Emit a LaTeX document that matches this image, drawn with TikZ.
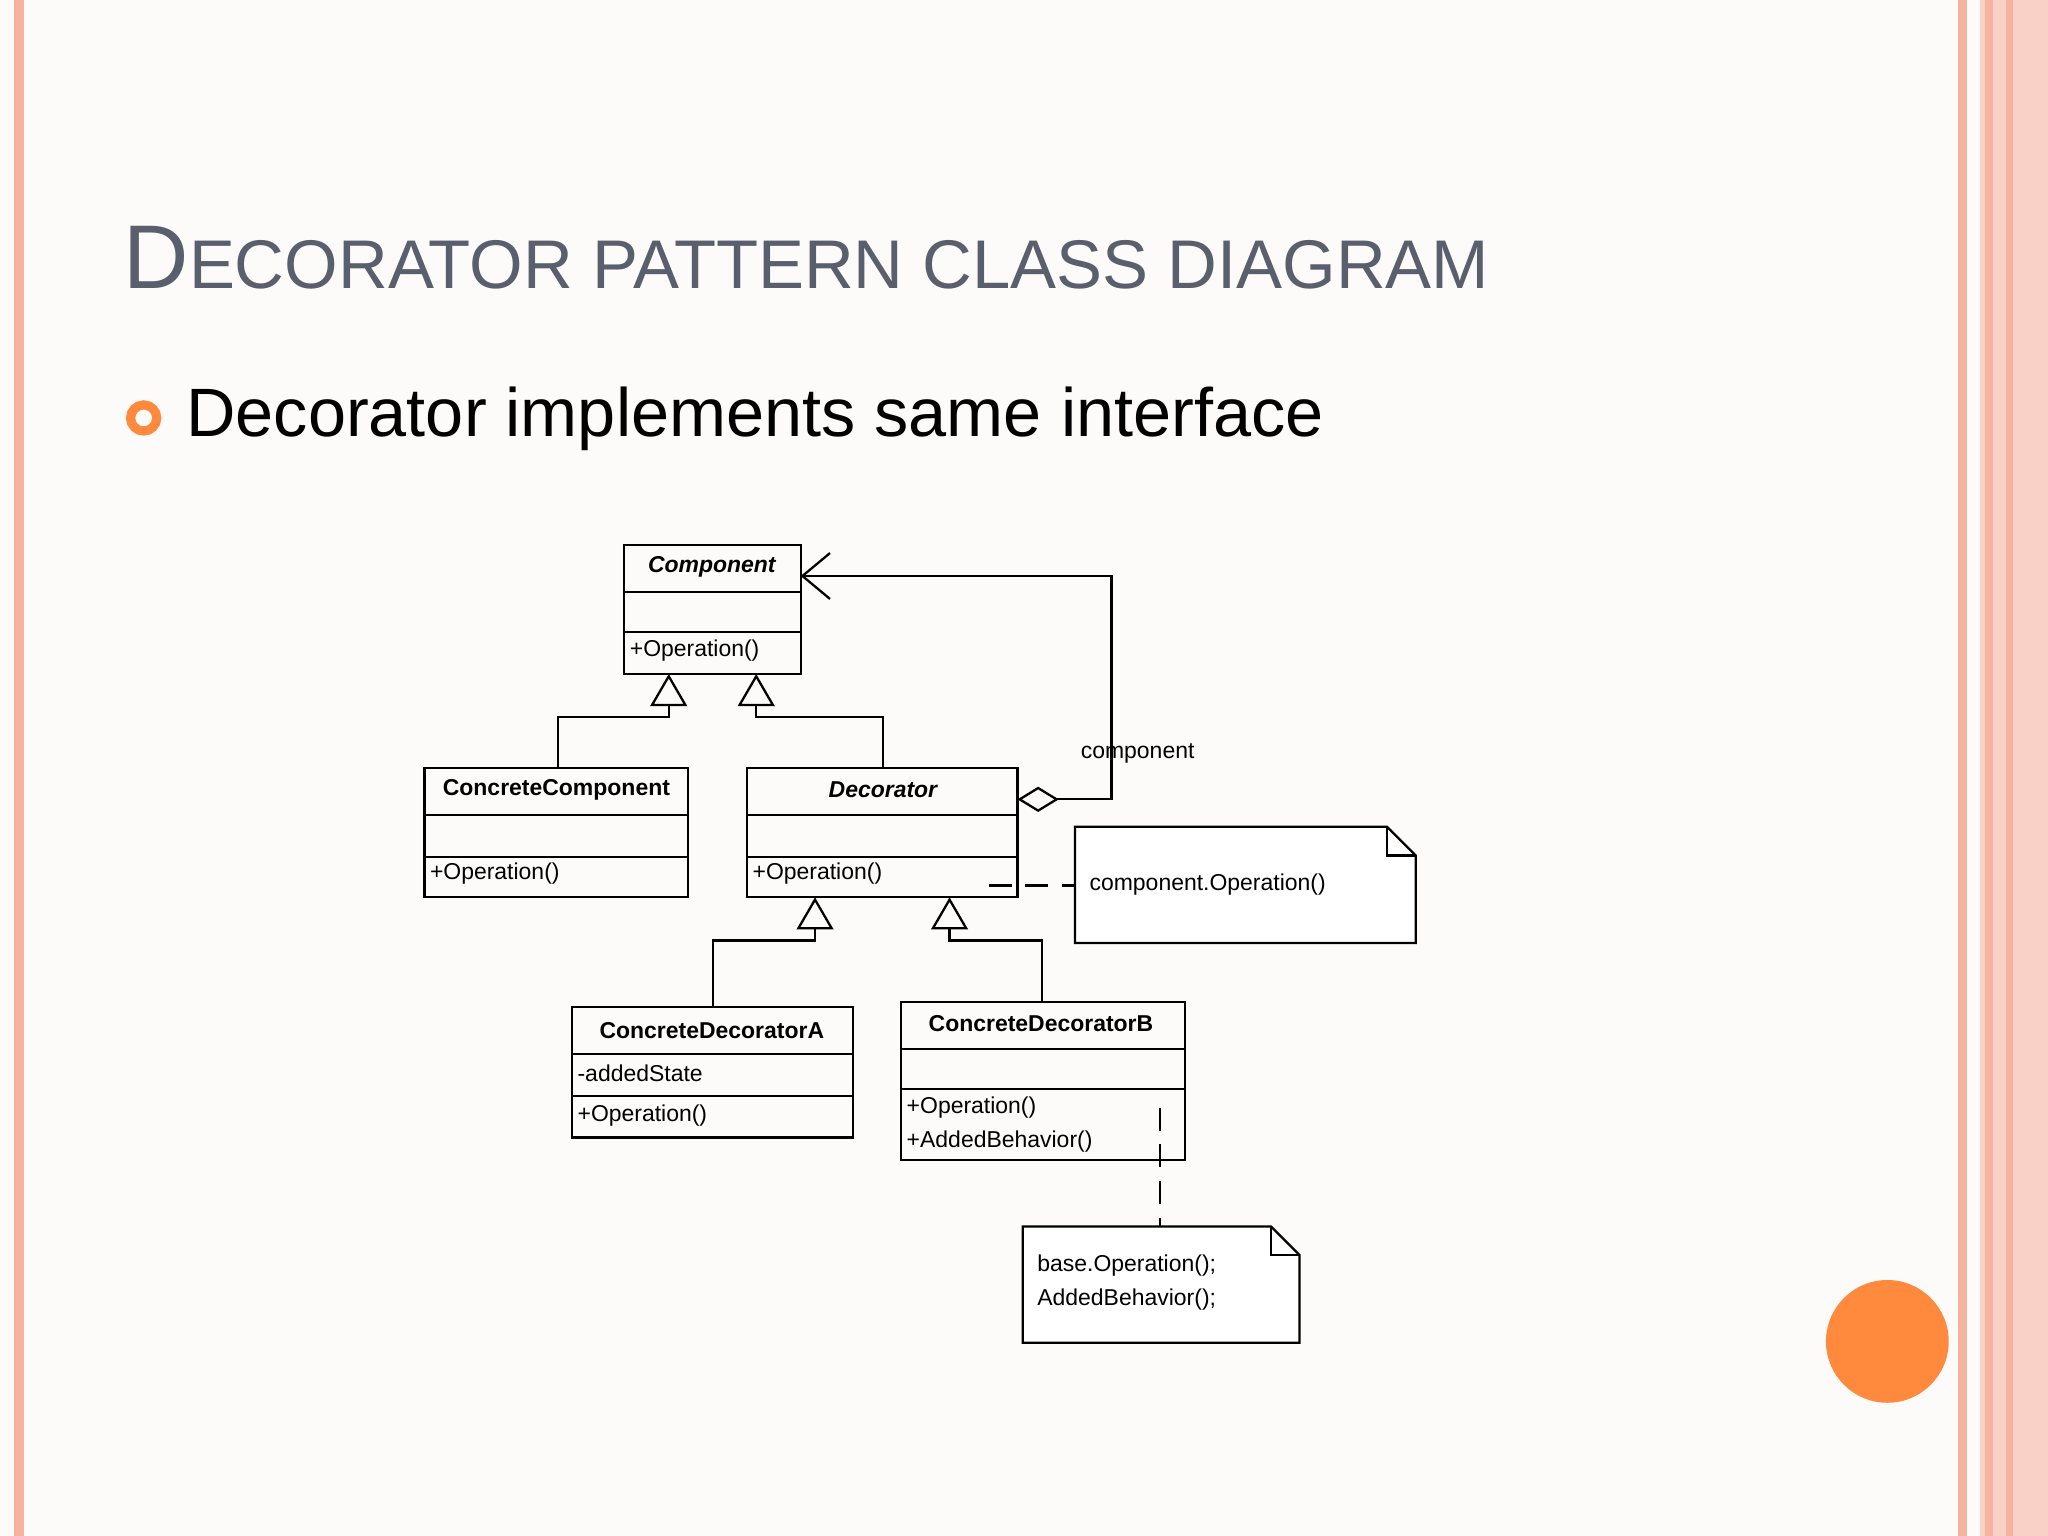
\documentclass[tikz,border=0pt]{standalone}
\usepackage{fontspec}
\setmainfont{Liberation Sans}
\usetikzlibrary{arrows.meta,shapes.geometric}
\definecolor{bg}{HTML}{FDFBF9}
\definecolor{pinkline}{HTML}{F6B3A0}
\definecolor{orng}{HTML}{FF8A3D}
\definecolor{ttl}{HTML}{5A5F6E}
\begin{document}
\begin{tikzpicture}[x=0.01cm,y=-0.01cm,
  box/.style={draw,line width=0.5pt,anchor=north west,inner sep=0pt},
  ln/.style={line width=0.5pt},
  txt/.style={font=\fontsize{5.0}{6.3}\selectfont,inner sep=1pt},
  cls/.style={font=\bfseries\fontsize{5.0}{6.3}\selectfont,inner sep=1pt},
  gen/.style={ln,-{Triangle[open,length=7pt,width=8pt]}},
  note/.style={draw,ln,fill=white}]
\fill[bg] (0,0) rectangle (1568,1176);
\useasboundingbox (0,0) rectangle (1568,1176);
\fill[pinkline] (11,0) rectangle (18,1176);
\fill[pinkline] (1499,0) rectangle (1506,1176);
\fill[pinkline!60] (1516,0) rectangle (1568,1176);
\fill[pinkline] (1520,0) rectangle (1526,1176);
\fill[pinkline] (1536,0) rectangle (1541,1176);
\node[anchor=base west,text=ttl,inner sep=0pt,font=\fontsize{19.7}{24}\selectfont] (title) at (94,221) {D\fontsize{15}{20}\selectfont ECORATOR PATTERN CLASS DIAGRAM};
\draw[orng,line width=2pt] (110,320) circle (10);
\node[anchor=base west,inner sep=0pt,font=\fontsize{14.9}{18}\selectfont] (bul) at (142,334) {Decorator implements same interface};
\fill[orng] (1445,1027) circle (47);
% Component
\draw[ln] (478,417) rectangle (613,516); \draw[ln] (478,453)--(613,453); \draw[ln] (478,484)--(613,484);
\node[cls,font=\bfseries\itshape\fontsize{5.0}{6.3}\selectfont] (comp) at (545,434) {Component};
\node[txt,anchor=west] (compop) at (478,498) {+Operation()};
\coordinate (compR) at (613,441);
% ConcreteComponent
\draw[ln] (325,588) rectangle (527,687); \draw[ln] (325,624)--(527,624); \draw[ln] (325,656)--(527,656);
\node[cls] (cc) at (426,605) {ConcreteComponent};
\node[txt,anchor=west] (ccop) at (325,669) {+Operation()};
% Decorator
\draw[ln] (572,588) rectangle (779,687); \draw[ln] (572,624)--(779,624); \draw[ln] (572,656)--(779,656);
\node[cls,font=\bfseries\itshape\fontsize{5.0}{6.3}\selectfont] (dec) at (676,605) {Decorator};
\node[txt,anchor=west] (decop) at (572,669) {+Operation()};
% CDA
\draw[ln] (438,771) rectangle (653,871); \draw[ln] (438,807)--(653,807); \draw[ln] (438,839)--(653,839);
\node[cls] (cda) at (545,789) {ConcreteDecoratorA};
\node[txt,anchor=west] (cdas) at (438,822) {-addedState};
\node[txt,anchor=west] (cdaop) at (438,854) {+Operation()};
% CDB
\draw[ln] (690,767) rectangle (907,888); \draw[ln] (690,803)--(907,803); \draw[ln] (690,834)--(907,834);
\node[cls] (cdb) at (797,784) {ConcreteDecoratorB};
\node[txt,anchor=west,align=left] (cdbop) at (690,861) {+Operation()\\[1pt]+AddedBehavior()};
% notes
\draw[note] (823,633) -- (1062,633) -- (1084,655) -- (1084,722) -- (823,722) -- cycle;
\draw[ln] (1062,633) -- (1062,655) -- (1084,655);
\node[txt,anchor=west] (n1) at (830,677) {component.Operation()};
\draw[note] (783,939) -- (973,939) -- (995,961) -- (995,1028) -- (783,1028) -- cycle;
\draw[ln] (973,939) -- (973,961) -- (995,961);
\node[txt,anchor=west,align=left] (n2) at (790,982) {base.Operation();\\[1pt]AddedBehavior();};
% generalizations
\draw[gen] (427,588) -- (427,549) -- (512,549) -- (512,516);
\draw[gen] (676,588) -- (676,549) -- (579,549) -- (579,516);
\draw[gen] (546,771) -- (546,720) -- (624,720) -- (624,687);
\draw[gen] (798,767) -- (798,720) -- (727,720) -- (727,687);
% aggregation
\draw[ln,{Diamond[open,length=9pt,width=5.5pt]}-{Straight Barb[length=6pt,width=10pt]}] (779,612) -- (851,612) -- (851,441) -- (compR);
\node[txt] (lab) at (871,577) {component};
\draw[ln,dash pattern=on 5pt off 3pt] (757,678) -- (823,678);
\draw[ln,dash pattern=on 5pt off 3pt] (888,848) -- (888,939);
\end{tikzpicture}
\end{document}
